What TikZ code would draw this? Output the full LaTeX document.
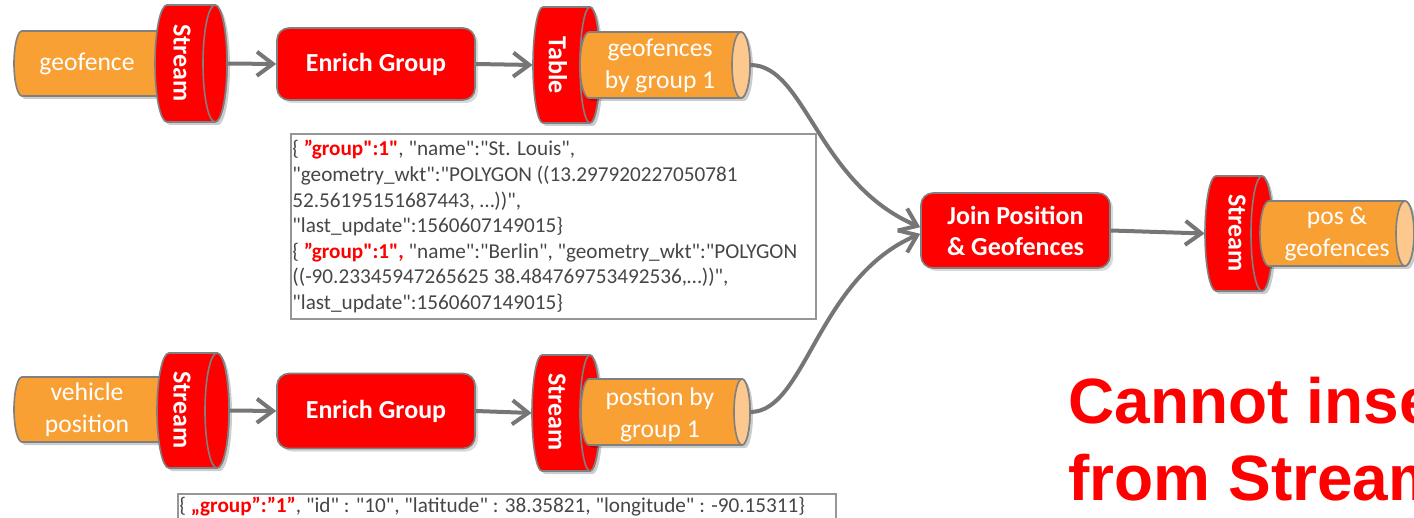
\documentclass[tikz,border=0pt]{standalone}
\usepackage{fontspec}
\newfontfamily\calibri{Carlito}
\newfontfamily\arialfam{Liberation Sans}
\usetikzlibrary{arrows.meta,shadows,calc}
\definecolor{kred}{RGB}{255,0,0}
\definecolor{korange}{RGB}{248,160,51}
\definecolor{kpeach}{RGB}{252,200,142}
\definecolor{kborder}{RGB}{128,128,128}
\definecolor{karrow}{RGB}{118,118,118}
\definecolor{ktext}{RGB}{70,70,70}
\definecolor{kframe}{RGB}{150,150,150}
% #1 name, #2 x of left arc centre, #3 x of end face centre, #4 top, #5 bottom, #6 x radius (px), #7 body fill, #8 end fill
\newcommand{\hcyl}[8]{%
  \pgfmathsetmacro\cry{(#5-#4)/4}%
  \pgfmathsetmacro\crx{#6/2}%
  \pgfmathsetmacro\cym{(#4+#5)/2}%
  \pgfmathsetmacro\cxm{(#2+#3)/2}%
  \pgfmathsetmacro\cw{(#3-#2)/2+#6}%
  \fill[black,opacity=0.2,shift={(3,3)}] (#2,#4) -- (#3,#4)
     arc[start angle=90,end angle=-90,x radius=\crx pt,y radius=\cry pt] -- (#2,#5)
     arc[start angle=-90,end angle=-270,x radius=\crx pt,y radius=\cry pt] -- cycle;
  \filldraw[fill=#7,draw=kborder,line width=0.8pt] (#2,#4) -- (#3,#4)
     arc[start angle=90,end angle=-90,x radius=\crx pt,y radius=\cry pt] -- (#2,#5)
     arc[start angle=-90,end angle=-270,x radius=\crx pt,y radius=\cry pt] -- cycle;
  \filldraw[fill=#8,draw=kborder,line width=0.8pt] (#3,\cym) ellipse[x radius=\crx pt,y radius=\cry pt];
  \node[inner sep=0pt,minimum width=\cw pt,minimum height={2*\cry pt}] (#1) at (\cxm,\cym) {};
}
\tikzset{
  procbox/.style={rectangle,rounded corners=6pt,fill=kred,draw=kborder,line width=0.8pt,
    text=white,font=\calibri\bfseries\fontsize{13}{15.5}\selectfont,align=center,
    drop shadow={shadow xshift=1.5pt,shadow yshift=-1.5pt,opacity=0.3}},
  cyllabel/.style={text=white,font=\calibri\bfseries\fontsize{13}{16}\selectfont,rotate=-90,inner sep=0pt},
  tubelabel/.style={text=white,font=\calibri\fontsize{12.8}{16}\selectfont,align=center,inner sep=0pt},
  flow/.style={draw=karrow,line width=2pt,-{Straight Barb[length=8pt,width=12pt]}},
  jframe/.style={draw=kframe,line width=0.8pt,rectangle,inner sep=0pt},
  jtext/.style={text=ktext,font=\calibri\fontsize{10.6}{12.8}\selectfont,align=left,inner sep=0pt},
  warn/.style={text=kred,font=\arialfam\bfseries\fontsize{32}{38}\selectfont,inner sep=0pt,anchor=base west},
}
\begin{document}
\begin{tikzpicture}[x=0.5pt,y=-0.5pt]
\useasboundingbox (0,0) rectangle (1414,518);
\clip (0,0) rectangle (1414,518);

% top row
\hcyl{gin}{22}{200}{31}{96}{8}{korange}{korange}
\hcyl{s1}{167}{215}{5}{122}{12}{kred}{kred}
\node[tubelabel] (ginl) at (87,64) {geofence};
\node[cyllabel] (s1l) at (182,63) {Stream};
\node[procbox,minimum width=99pt,minimum height=36pt] (eg1) at (376,64) {Enrich Group};
\hcyl{tab}{543}{590}{7}{123}{10}{kred}{kred}
\node[cyllabel] (tabl) at (558,65) {Table};
\hcyl{gout}{589}{741}{32}{98}{9}{korange}{kpeach}
\node[tubelabel] (goutl) at (660,66) {geofences\\by group 1};

% bottom row
\hcyl{vin}{22}{200}{377}{442}{8}{korange}{korange}
\hcyl{s2}{169}{217}{353}{468}{12}{kred}{kred}
\node[tubelabel] (vinl) at (87,410) {vehicle\\position};
\node[cyllabel] (s2l) at (182,410) {Stream};
\node[procbox,minimum width=99pt,minimum height=37.5pt] (eg2) at (376,411) {Enrich Group};
\hcyl{s4}{542}{590}{355}{471}{10}{kred}{kred}
\node[cyllabel] (s4l) at (557,412) {Stream};
\hcyl{pout}{589}{742}{379}{445}{8}{korange}{kpeach}
\node[tubelabel] (poutl) at (660,415) {postion by\\group 1};

% join and output
\node[procbox,minimum width=94.5pt,minimum height=37.5pt] (join) at (1015.5,230.5) {Join Position\\\& Geofences};
\hcyl{s3}{1216}{1262}{176}{291}{11}{kred}{kred}
\node[cyllabel] (s3l) at (1237,233) {Stream};
\hcyl{pg}{1269}{1405}{201}{266}{9}{korange}{kpeach}
\node[tubelabel] (pgl) at (1337,234) {pos \&\\geofences};

% connectors
\draw[flow] (s1.east) -- (eg1.west);
\draw[flow] (eg1.east) -- (tab.west);
\draw[flow] (s2.east) -- (eg2.west);
\draw[flow] (eg2.east) -- (s4.west);
\draw[flow] (gout.east) .. controls +(55,0) and +(-103,-44) .. (join.178);
\draw[flow] (pout.east) .. controls +(55,0) and +(-103,44) .. (join.182);
\draw[flow] (join.east) -- (s3.west);

% json boxes
\node[jframe,anchor=north west,minimum width=262.5pt,minimum height=92.5pt] (j1) at (290,133) {};
\node[jtext,anchor=north west] (j1t) at (292,140) {\{ \textbf{\textcolor{kred}{”group":1"}}, "name":"St. Louis",\\
"geometry\_wkt":"POLYGON ((13.297920227050781\\
52.56195151687443, …))",\\
"last\_update":1560607149015\}\\
\{ \textcolor{kred}{\textbf{”group":1",}} "name":"Berlin", "geometry\_wkt":"POLYGON\\
((-90.23345947265625 38.484769753492536,…))",\\
"last\_update":1560607149015\}};
\node[jframe,anchor=north west,minimum width=329pt,minimum height=20pt] (j2) at (177,493) {};
\node[jtext,anchor=base west] (j2t) at (179,512) {\{ \textcolor{kred}{\textbf{„group”:”1”}}, "id" : "10", "latitude" : 38.35821, "longitude" : -90.15311\}};

% warning text
\node[warn] (msg1) at (1068,423) {Cannot insert};
\node[warn] (msg2) at (1068,500) {from Stream};
\end{tikzpicture}
\end{document}
